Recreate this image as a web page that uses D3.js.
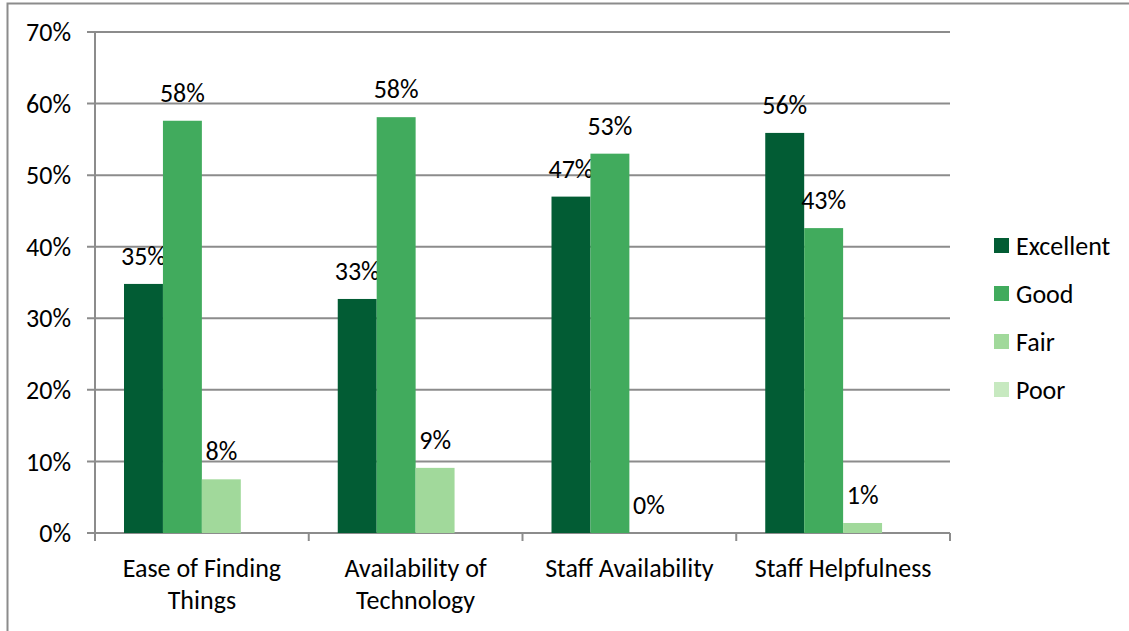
<!DOCTYPE html>
<html>
<head>
<meta charset="utf-8">
<script src="https://cdn.jsdelivr.net/npm/d3@7"></script>
<style>
  body { margin: 0; background: #fff; }
  svg { display: block; }
  text { font-family: Carlito, Calibri, Lato, "Noto Sans", sans-serif; fill: #000; }
</style>
</head>
<body>
<svg id="chart" width="1129" height="631"></svg>
<script>
const categories = [['Ease of Finding', 'Things'], ['Availability of', 'Technology'], ['Staff Availability'], ['Staff Helpfulness']];
const seriesNames = ['Excellent', 'Good', 'Fair', 'Poor'];
const excellent = [0.348, 0.327, 0.470, 0.559];
const good = [0.576, 0.581, 0.530, 0.426];
const fair = [0.075, 0.091, 0.0, 0.014];
const poor = [null, null, null, null];
const yTicks = [0, 0.1, 0.2, 0.3, 0.4, 0.5, 0.6, 0.7];

const colors = ['#025c34', '#41ab5d', '#a1d99b', '#c7e9c0'];
const seriesValues = [excellent, good, fair, poor];

const svg = d3.select('#chart');
const fontSize = 26;

// frame of the embedded chart
svg.append('path')
  .attr('d', 'M7.5,631 V3.5 H1129')
  .attr('fill', 'none')
  .attr('stroke', '#8c8c8c')
  .attr('stroke-width', 2);

const plotLeft = 95, plotRight = 950, plotTop = 32, plotBottom = 533;

const y = d3.scaleLinear().domain([0, 0.7]).range([plotBottom, plotTop]);
const x0 = d3.scaleBand().domain(d3.range(categories.length)).range([plotLeft, plotRight]);
const groupPad = 29;
const x1 = d3.scaleBand().domain(d3.range(seriesNames.length)).range([groupPad, x0.bandwidth() - groupPad]);

// gridlines
svg.append('g')
  .selectAll('line')
  .data(yTicks)
  .join('line')
  .attr('x1', plotLeft - 8)
  .attr('x2', plotRight)
  .attr('y1', d => y(d))
  .attr('y2', d => y(d))
  .attr('stroke', '#8c8c8c')
  .attr('stroke-width', 2);

// y axis line
svg.append('line')
  .attr('x1', plotLeft).attr('x2', plotLeft)
  .attr('y1', plotTop).attr('y2', plotBottom + 8)
  .attr('stroke', '#8c8c8c').attr('stroke-width', 2);

// x ticks
svg.append('g')
  .selectAll('line')
  .data(d3.range(categories.length + 1))
  .join('line')
  .attr('x1', i => plotLeft + i * x0.bandwidth())
  .attr('x2', i => plotLeft + i * x0.bandwidth())
  .attr('y1', plotBottom)
  .attr('y2', plotBottom + 8)
  .attr('stroke', '#8c8c8c').attr('stroke-width', 2);

// y labels
svg.append('g')
  .selectAll('text')
  .data(yTicks)
  .join('text')
  .attr('x', plotLeft - 24)
  .attr('y', d => y(d))
  .attr('dy', '0.35em')
  .attr('text-anchor', 'end')
  .attr('font-size', fontSize)
  .text(d => d3.format('.0%')(d));

// bars
seriesValues.forEach((vals, s) => {
  const pts = vals.map((v, i) => ({ v, i })).filter(d => d.v !== null);
  const g = svg.append('g');
  g.selectAll('rect')
    .data(pts)
    .join('rect')
    .attr('x', d => x0(d.i) + x1(s))
    .attr('width', x1.bandwidth())
    .attr('y', d => y(d.v))
    .attr('height', d => plotBottom - y(d.v))
    .attr('fill', colors[s]);
  g.selectAll('text')
    .data(pts)
    .join('text')
    .attr('x', d => x0(d.i) + x1(s) + x1.bandwidth() / 2)
    .attr('y', d => y(d.v) - 19)
    .attr('text-anchor', 'middle')
    .attr('font-size', fontSize)
    .text(d => d3.format('.0%')(d.v));
});

// category labels
const cat = svg.append('g')
  .selectAll('text')
  .data(categories)
  .join('text')
  .attr('x', (d, i) => x0(i) + x0.bandwidth() / 2)
  .attr('y', 577)
  .attr('text-anchor', 'middle')
  .attr('font-size', fontSize);
cat.selectAll('tspan')
  .data(d => d)
  .join('tspan')
  .attr('x', function() { return this.parentNode.getAttribute('x'); })
  .attr('dy', (d, i) => i === 0 ? 0 : 32)
  .text(d => d);

// legend
const legend = svg.append('g')
  .selectAll('g')
  .data(seriesNames)
  .join('g')
  .attr('transform', (d, i) => `translate(994, ${238 + i * 48})`);
legend.append('rect')
  .attr('width', 15).attr('height', 15)
  .attr('fill', (d, i) => colors[i]);
legend.append('text')
  .attr('x', 22)
  .attr('y', 7.5)
  .attr('dy', '0.35em')
  .attr('font-size', fontSize)
  .text(d => d);
</script>
</body>
</html>
